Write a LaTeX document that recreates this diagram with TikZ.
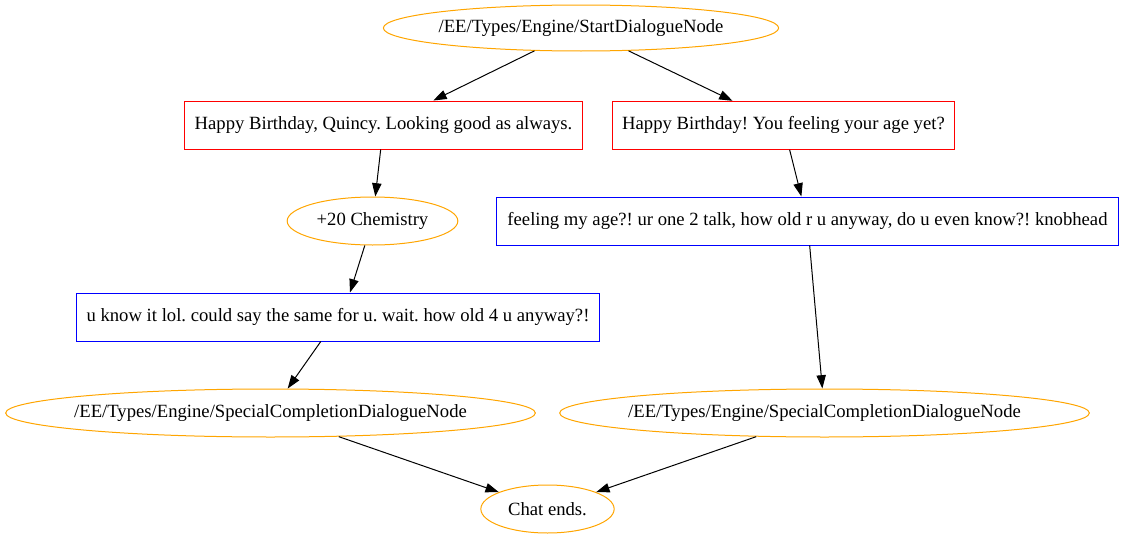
\documentclass[tikz,border=0pt]{standalone}
\usepackage{fontspec}
\setmainfont{Liberation Serif}
\usetikzlibrary{arrows.meta,shapes.geometric}

\definecolor{gvorange}{HTML}{FFA500}
\definecolor{gvred}{HTML}{FF0000}
\definecolor{gvblue}{HTML}{0000FF}

\tikzset{
  every node/.style={font=\fontsize{14}{16}\selectfont\frenchspacing},
  eventnode/.style={draw=gvorange,ellipse,inner sep=0pt,minimum height=36pt},
  playerline/.style={draw=gvred,rectangle,inner xsep=7.9pt,minimum height=36pt},
  npcline/.style={draw=gvblue,rectangle,inner xsep=7.9pt,minimum height=36pt},
  edge/.style={-{Triangle[length=10pt,width=7pt]}},
}

\begin{document}
\begin{tikzpicture}[x=0.75pt,y=0.75pt,yscale=-1,line width=0.75pt]
\useasboundingbox (0,0) rectangle (1122,539);

% Start
\node [eventnode,inner xsep=-2pt,minimum height=34.5pt] (start) at (581,28) {/EE/Types/Engine/StartDialogueNode};

% Player choices
\node [playerline] (bday1) at (383.5,125) {Happy Birthday, Quincy. Looking good as always.};
\node [playerline,inner xsep=7.2pt] (bday2) at (783.5,125.3) {Happy Birthday! You feeling your age yet?};

% Left branch
\node [eventnode,minimum width=128pt] (chem) at (372.5,221) {+20 Chemistry};
\node [npcline] (reply1) at (338,317) {u know it lol. could say the same for u. wait. how old 4 u anyway?!};
\node [eventnode,inner xsep=-6.8pt] (done1) at (270.5,413) {/EE/Types/Engine/SpecialCompletionDialogueNode};

% Right branch
\node [npcline] (reply2) at (807.5,221) {feeling my age?! ur one 2 talk, how old r u anyway, do u even know?! knobhead};
\node [eventnode,inner xsep=-6.8pt] (done2) at (824.5,413) {/EE/Types/Engine/SpecialCompletionDialogueNode};

% End
\node [eventnode,minimum width=100pt] (chatend) at (547.5,509) {Chat ends.};

% Edges
\draw [edge] (start) -- (bday1);
\draw [edge] (start) -- (bday2);
\draw [edge] (bday1) -- (chem);
\draw [edge] (chem) -- ([xshift=9pt]reply1.north);
\draw [edge] (reply1) -- (done1);
\draw [edge] (bday2) -- (reply2);
\draw [edge] (reply2) -- (done2);
\draw [edge] (done1) -- (chatend);
\draw [edge] (done2) -- (chatend);

\end{tikzpicture}
\end{document}
